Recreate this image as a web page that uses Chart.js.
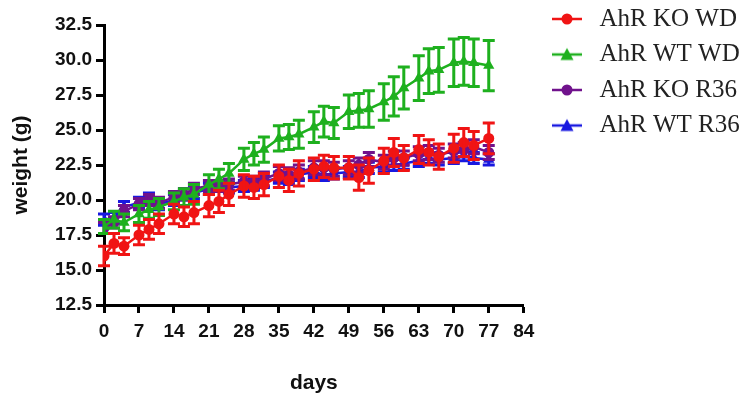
<!DOCTYPE html>
<html>
<head>
<meta charset="utf-8">
<script src="https://cdn.jsdelivr.net/npm/chart.js@4/dist/chart.umd.min.js"></script>
<style>
  html, body { margin: 0; padding: 0; background: #fff; }
  #wrap { width: 748px; height: 398px; }
</style>
</head>
<body>
<div id="wrap"><canvas id="chart" width="748" height="398"></canvas></div>
<script>
const days = [0, 2, 4, 7, 9, 11, 14, 16, 18, 21, 23, 25, 28, 30, 32, 35, 37, 39, 42, 44, 46, 49, 51, 53, 56, 58, 60, 63, 65, 67, 70, 72, 74, 77];

const koWd = [16.0, 16.9, 16.7, 17.5, 17.9, 18.3, 19.0, 18.8, 19.1, 19.6, 19.9, 20.4, 21.0, 20.9, 21.1, 21.7, 21.4, 21.9, 22.2, 22.4, 22.3, 22.3, 21.6, 22.1, 22.8, 23.4, 23.0, 23.6, 23.4, 23.1, 23.7, 24.1, 23.9, 24.4];
const wtWd = [18.1, 18.6, 18.4, 19.0, 19.3, 19.5, 19.9, 20.2, 20.4, 21.1, 21.5, 21.9, 22.9, 23.3, 23.6, 24.4, 24.5, 24.7, 25.2, 25.6, 25.5, 26.3, 26.4, 26.5, 27.0, 27.4, 28.0, 28.7, 29.2, 29.3, 29.8, 29.9, 29.8, 29.6];
const koR36 = [18.0, 18.4, 19.2, 19.7, 20.0, 19.8, 20.2, 20.4, 20.8, 21.0, 21.0, 21.1, 21.3, 21.3, 21.5, 21.9, 21.8, 22.0, 22.3, 22.3, 22.2, 22.3, 22.5, 22.9, 22.7, 23.0, 23.0, 23.3, 23.4, 23.2, 23.5, 23.6, 23.8, 23.4];
const wtR36 = [18.6, 18.7, 19.5, 19.8, 20.1, 19.7, 20.0, 20.4, 20.5, 20.8, 21.0, 20.9, 21.0, 21.1, 21.3, 21.6, 21.5, 21.8, 22.0, 21.8, 21.9, 22.0, 22.0, 22.3, 22.4, 22.5, 22.6, 22.8, 23.0, 22.9, 23.0, 23.2, 23.0, 22.9];

// SEM
const koWdErr = [0.7, 0.7, 0.6, 0.7, 0.7, 0.7, 0.7, 0.7, 0.8, 0.8, 0.8, 0.8, 0.8, 0.8, 0.8, 0.8, 0.8, 0.9, 0.8, 0.8, 0.8, 0.8, 0.9, 0.9, 0.9, 1.0, 0.9, 1.0, 0.9, 0.9, 1.0, 1.0, 1.0, 1.1];
const wtWdErr = [0.5, 0.6, 0.6, 0.6, 0.6, 0.6, 0.6, 0.6, 0.7, 0.7, 0.7, 0.7, 0.8, 0.8, 0.9, 0.9, 0.9, 1.0, 1.1, 1.1, 1.1, 1.2, 1.2, 1.3, 1.3, 1.4, 1.5, 1.6, 1.6, 1.6, 1.7, 1.7, 1.7, 1.8];
const koR36Err = [0.4, 0.4, 0.4, 0.4, 0.4, 0.4, 0.4, 0.4, 0.4, 0.4, 0.4, 0.4, 0.4, 0.4, 0.5, 0.5, 0.5, 0.5, 0.5, 0.5, 0.5, 0.5, 0.5, 0.5, 0.5, 0.5, 0.5, 0.5, 0.5, 0.5, 0.5, 0.5, 0.5, 0.5];
const wtR36Err = [0.4, 0.4, 0.4, 0.4, 0.4, 0.4, 0.4, 0.4, 0.4, 0.4, 0.4, 0.4, 0.4, 0.4, 0.4, 0.4, 0.4, 0.4, 0.4, 0.4, 0.4, 0.4, 0.4, 0.4, 0.4, 0.4, 0.4, 0.4, 0.4, 0.4, 0.4, 0.4, 0.4, 0.4];

const seriesNames = ["AhR KO WD", "AhR WT WD", "AhR KO R36", "AhR WT R36"];
const yTicks = [12.5, 15, 17.5, 20, 22.5, 25, 27.5, 30, 32.5];
const xTicks = [0, 7, 14, 21, 28, 35, 42, 49, 56, 63, 70, 77, 84];

const colors = ["#f01414", "#1eb01e", "#70128c", "#1818e0"];
const shapes = ["circle", "triangle", "circle", "triangle"];
const values = [koWd, wtWd, koR36, wtR36];
const errs = [koWdErr, wtWdErr, koR36Err, wtR36Err];

// little line + marker icons for the legend
function legendIcon(color, shape) {
  const c = document.createElement("canvas");
  c.width = 32; c.height = 16;
  const g = c.getContext("2d");
  g.strokeStyle = color; g.fillStyle = color; g.lineWidth = 2.5;
  g.beginPath(); g.moveTo(1, 8); g.lineTo(31, 8); g.stroke();
  g.beginPath();
  if (shape === "circle") {
    g.arc(16, 8, 5.5, 0, Math.PI * 2);
  } else {
    g.moveTo(16, 1.5); g.lineTo(22.5, 13.5); g.lineTo(9.5, 13.5); g.closePath();
  }
  g.fill();
  return c;
}
const icons = colors.map((c, i) => legendIcon(c, shapes[i]));

const errorBars = {
  id: "errorBars",
  afterDatasetDraw(chart, args) {
    const i = args.index;
    const ds = chart.data.datasets[i];
    const { x, y } = chart.scales;
    const g = chart.ctx;
    g.save();
    g.strokeStyle = ds.borderColor;
    g.lineWidth = 3;
    ds.data.forEach((p, k) => {
      const px = x.getPixelForValue(p.x);
      const top = y.getPixelForValue(p.y + errs[i][k]);
      const bot = y.getPixelForValue(p.y - errs[i][k]);
      g.beginPath();
      g.moveTo(px, top); g.lineTo(px, bot);
      g.moveTo(px - 6, top); g.lineTo(px + 6, top);
      g.moveTo(px - 6, bot); g.lineTo(px + 6, bot);
      g.stroke();
    });
    g.restore();
  }
};

// put the legend in the top right corner
const legendPlace = {
  id: "legendPlace",
  afterLayout(chart) {
    const lg = chart.legend;
    const w = lg.width;
    lg.left = 536.5; lg.right = lg.left + w;
    const h = lg.height;
    lg.top = -4; lg.bottom = lg.top + h;
  }
};

const ctx = document.getElementById("chart");

new Chart(ctx, {
  type: "line",
  data: {
    datasets: seriesNames.map((name, i) => ({
      label: name,
      data: days.map((d, k) => ({ x: d, y: values[i][k] })),
      borderColor: colors[i],
      backgroundColor: colors[i],
      borderWidth: 2.5,
      pointStyle: shapes[i],
      pointRadius: shapes[i] === "circle" ? 5.5 : 6.5,
      pointBorderWidth: 0,
      tension: 0
    }))
  },
  options: {
    responsive: false,
    animation: false,
    layout: { padding: { top: 25, right: 11, bottom: 0, left: 0 } },
    plugins: {
      legend: {
        position: "right",
        align: "start",
        maxWidth: 260,
        labels: {
          usePointStyle: true,
          pointStyleWidth: 40,
          padding: 10.5,
          color: "#222",
          font: { family: "Liberation Serif", size: 25 },
          generateLabels(chart) {
            const items = Chart.defaults.plugins.legend.labels.generateLabels(chart);
            items.forEach((it, i) => { it.pointStyle = icons[i]; });
            return items;
          }
        }
      },
      tooltip: { enabled: false }
    },
    scales: {
      x: {
        type: "linear",
        min: 0,
        max: 84,
        afterBuildTicks: s => { s.ticks = xTicks.map(v => ({ value: v })); },
        afterFit: s => { s.height = 93; },
        ticks: {
          color: "#111",
          padding: 7,
          maxRotation: 0,
          font: { family: "Liberation Sans", size: 19, weight: "bold" }
        },
        grid: { drawOnChartArea: false, drawTicks: true, tickLength: 8, tickWidth: 3, color: "#000" },
        border: { color: "#000", width: 3 },
        title: {
          display: true,
          text: "days",
          color: "#111",
          padding: { top: 4, bottom: 2 },
          font: { family: "Liberation Sans", size: 21, weight: "bold" }
        }
      },
      y: {
        min: 12.5,
        max: 32.5,
        afterBuildTicks: s => { s.ticks = yTicks.map(v => ({ value: v })); },
        afterFit: s => { s.width = 104; },
        ticks: {
          color: "#111",
          padding: 4,
          callback: v => v.toFixed(1),
          font: { family: "Liberation Sans", size: 19, weight: "bold" }
        },
        grid: { drawOnChartArea: false, drawTicks: true, tickLength: 8, tickWidth: 3, color: "#000" },
        border: { color: "#000", width: 3 },
        title: {
          display: true,
          text: "weight (g)",
          color: "#111",
          padding: { top: 9, bottom: 0 },
          font: { family: "Liberation Sans", size: 21, weight: "bold" }
        }
      }
    }
  },
  plugins: [errorBars, legendPlace]
});
</script>
</body>
</html>
